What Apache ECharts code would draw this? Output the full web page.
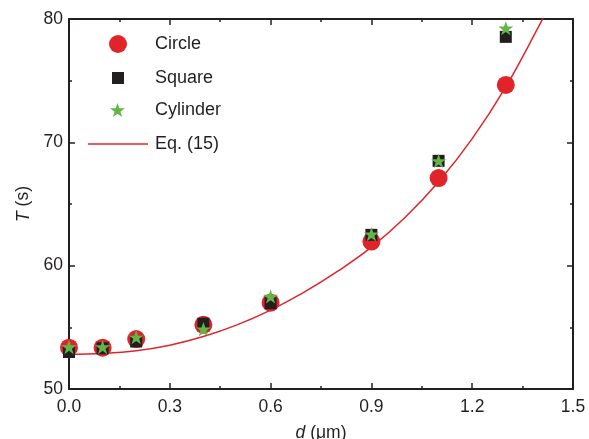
<!DOCTYPE html>
<html>
<head>
<meta charset="utf-8">
<script src="https://cdn.jsdelivr.net/npm/echarts@6/dist/echarts.min.js"></script>
<style>
html,body{margin:0;padding:0;background:#fff;}
#chart{width:589px;height:439px;}
</style>
</head>
<body>
<div id="chart"></div>
<script>
// ---- data ----
var dValues = [0, 0.1, 0.2, 0.4, 0.6, 0.9, 1.1, 1.3];
var circleT = [53.35, 53.35, 54.05, 55.2, 57.0, 61.95, 67.1, 74.65];
var squareT = [53.0, 53.3, 53.85, 55.3, 56.95, 62.5, 68.5, 78.55];
var cylinderT = [53.4, 53.4, 54.2, 54.85, 57.5, 62.55, 68.5, 79.25];
var eqD = [0, 0.1, 0.2, 0.3, 0.4, 0.5, 0.6, 0.7, 0.8, 0.9, 1.0, 1.1, 1.2, 1.3, 1.4, 1.42];
var eqT = [52.8, 52.88, 53.1, 53.55, 54.25, 55.2, 56.4, 57.85, 59.55, 61.5, 63.9, 66.8, 70.3, 74.5, 79.5, 80.6];
var xTicks = ['0.0', '0.3', '0.6', '0.9', '1.2', '1.5'];
var yTicks = ['50', '60', '70', '80'];

function pairs(xs, ys) { return xs.map(function (x, i) { return [x, ys[i]]; }); }

var starPath = 'path://M50,0 L61.8,35.3 L98.9,35.3 L69.1,57.1 L80.3,92.7 L50,70.5 L19.7,92.7 L30.9,57.1 L1.1,35.3 L38.2,35.3 Z';
var ink = '#231f20';
var red = '#e1242a';
var green = '#62b547';
var font = 'Liberation Sans, Arial, sans-serif';

function axisLine() { return { show: true, onZero: false, lineStyle: { color: ink, width: 2 } }; }
function axisTick() { return { show: true, inside: true, length: 6, lineStyle: { color: ink, width: 1.5 } }; }
function minorTick() { return { show: true, splitNumber: 2, length: 3, lineStyle: { color: ink, width: 1.5 } }; }

function xAx(pos, showLabel) {
  return {
    type: 'value', position: pos, min: 0, max: 1.5, interval: 0.3,
    axisLine: axisLine(), axisTick: axisTick(), minorTick: minorTick(),
    splitLine: { show: false },
    axisLabel: {
      show: showLabel, margin: 9, color: ink, fontSize: 17.5, fontFamily: font,
      formatter: function (v) { var i = Math.round(v / 0.3); return xTicks[i]; }
    },
    name: showLabel ? '{i|d} (μm)' : '', nameLocation: 'middle', nameGap: 35,
    nameTextStyle: { color: ink, fontSize: 17.5, fontFamily: font,
      rich: { i: { fontStyle: 'italic', fontSize: 17.5, fontFamily: font, color: ink } } }
  };
}
function yAx(pos, showLabel) {
  return {
    type: 'value', position: pos, min: 50, max: 80, interval: 10,
    axisLine: axisLine(), axisTick: axisTick(), minorTick: minorTick(),
    splitLine: { show: false },
    axisLabel: {
      show: showLabel, margin: 6, color: ink, fontSize: 17.5, fontFamily: font,
      formatter: function (v) { var i = Math.round((v - 50) / 10); return yTicks[i]; }
    },
    name: showLabel ? '{i|T} (s)' : '', nameLocation: 'middle', nameGap: 36, nameRotate: 90,
    nameTextStyle: { color: ink, fontSize: 17.5, fontFamily: font,
      rich: { i: { fontStyle: 'italic', fontSize: 17.5, fontFamily: font, color: ink } } }
  };
}

function legendAt(name, icon, left, top, w, h, textPad) {
  return {
    data: [{ name: name, icon: icon }], left: left, top: top, itemWidth: w, itemHeight: h,
    padding: 0, selectedMode: false, itemStyle: { opacity: 1 },
    textStyle: { color: ink, fontSize: 18, lineHeight: 18, fontFamily: font, padding: [0, 0, 0, textPad] }
  };
}

var chart = echarts.init(document.getElementById('chart'), null, { renderer: 'canvas' });
chart.setOption({
  animation: false,
  backgroundColor: '#fff',
  grid: { left: 69, right: 16, top: 19, bottom: 50, containLabel: false, outerBoundsMode: 'none' },
  xAxis: [xAx('bottom', true), xAx('top', false)],
  yAxis: [yAx('left', true), yAx('right', false)],
  legend: [
    legendAt('Circle', 'circle', 109, 35, 18, 18, 23),
    legendAt('Square', 'rect', 112, 69, 12, 12, 26),
    legendAt('Cylinder', starPath, 110, 101, 15, 15, 25),
    legendAt('Eq. (15)', 'rect', 88, 135, 60, 1.5, 2)
  ],
  series: [
    { name: 'Eq. (15)', type: 'line', data: pairs(eqD, eqT), smooth: 0.4, showSymbol: false,
      symbol: 'none', clip: true, z: 1, lineStyle: { color: red, width: 1.5 }, itemStyle: { color: red } },
    { name: 'Circle', type: 'scatter', data: pairs(dValues, circleT), symbol: 'circle', symbolSize: 18,
      z: 2, itemStyle: { color: red, opacity: 1 } },
    { name: 'Square', type: 'scatter', data: pairs(dValues, squareT), symbol: 'rect', symbolSize: 12,
      z: 3, itemStyle: { color: ink, opacity: 1 } },
    { name: 'Cylinder', type: 'scatter', data: pairs(dValues, cylinderT), symbol: starPath, symbolSize: 15,
      symbolKeepAspect: true, z: 4, itemStyle: { color: green, opacity: 1 } }
  ]
});
</script>
</body>
</html>
